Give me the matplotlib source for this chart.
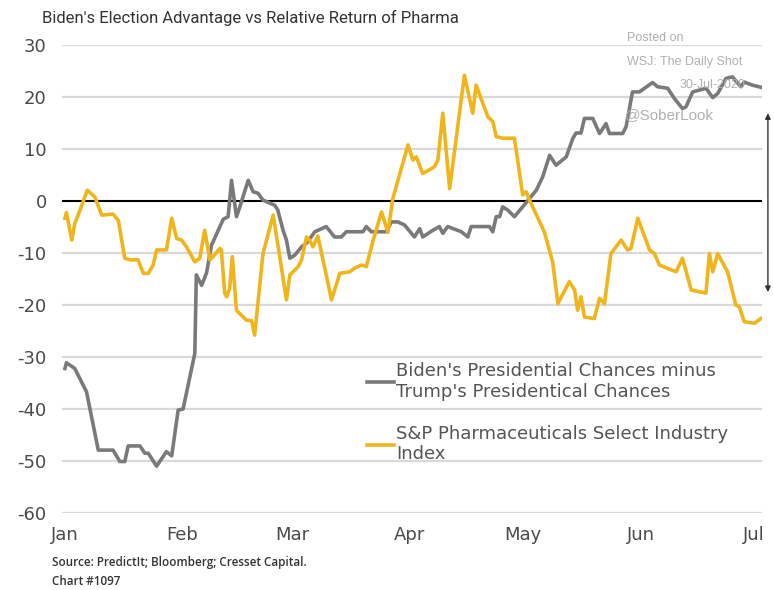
import matplotlib
matplotlib.use("Agg")
import matplotlib.pyplot as plt
from matplotlib.lines import Line2D

plt.rcParams["axes.unicode_minus"] = False

# days since Jan 1, 2020
biden_days = [0, 0.4, 2.6, 5.7, 8.8, 12.7, 14.5, 15.8, 16.7, 19.8, 21.1, 22.0, 24.2, 26.8,
              28.2, 29.9, 31.2, 34.3, 34.7, 36.1, 37.4, 38.7, 41.8, 43.1, 44.0, 45.3, 46.2,
              48.4, 49.7, 51.0, 52.3, 55.4, 56.2, 57.6, 58.5, 59.4, 60.7, 62.5, 63.8, 66.0,
              69.0, 71.2, 73.0, 74.3, 78.7, 79.6, 80.9, 84.9, 86.2, 87.9, 89.7, 92.3, 93.7,
              94.5, 97.2, 98.9, 99.8, 101.1, 104.7, 106.4, 107.3, 112.1, 113.0, 113.9, 114.8,
              115.6, 116.9, 118.7, 120.9, 122.7, 124.5, 126.2, 128.0, 129.7, 132.4, 134.1,
              135.0, 136.3, 137.2, 139.4, 141.2, 142.9, 143.8, 147.3, 148.2, 149.9, 151.7,
              155.2, 156.5, 159.2, 160.9, 163.1, 164.0, 165.8, 169.3, 171.1, 172.4, 174.6,
              176.3, 178.5, 179.4, 181.6, 183.8]
biden_adv = [-32.2, -31.1, -32.2, -36.7, -47.9, -47.9, -50.1, -50.1, -47.1, -47.1, -48.5, -48.5,
             -51.0, -48.2, -49.0, -40.2, -40.0, -29.3, -14.2, -16.2, -13.8, -8.5, -3.5, -3.0,
             4.0, -3.0, -1.1, 4.0, 1.8, 1.5, 0.2, -0.8, -1.7, -5.6, -7.5, -11.0, -10.4, -8.8,
             -8.1, -5.9, -4.9, -6.9, -6.9, -5.9, -5.9, -4.9, -5.9, -5.9, -4.0, -4.0, -4.6,
             -6.9, -5.3, -6.9, -5.6, -4.9, -6.2, -4.9, -5.9, -6.9, -4.9, -4.9, -5.9, -3.0,
             -3.0, -1.1, -1.7, -3.0, -1.1, 0.5, 2.1, 4.7, 8.8, 6.9, 8.5, 12.0, 13.1, 13.1,
             15.9, 15.9, 13.0, 14.9, 13.0, 13.0, 14.3, 21.0, 21.0, 22.8, 22.0, 21.7, 19.8,
             17.8, 18.1, 21.0, 21.7, 19.9, 20.7, 23.6, 23.9, 22.0, 22.9, 22.3, 21.9]

pharma_days = [0, 0.4, 1.8, 2.6, 4.0, 5.9, 7.9, 9.7, 12.7, 14.1, 15.8, 17.2, 19.3, 20.7, 22.0,
               23.3, 24.2, 26.8, 28.2, 29.5, 30.8, 32.1, 34.3, 35.6, 36.9, 38.3, 39.1, 40.9,
               41.3, 42.2, 42.7, 43.5, 44.2, 45.3, 47.9, 49.3, 50.1, 52.3, 55.0, 58.5, 59.4,
               61.6, 62.5, 63.8, 64.6, 65.5, 66.8, 70.4, 72.6, 75.2, 76.5, 78.3, 79.6, 81.3,
               83.6, 84.0, 85.3, 86.6, 90.6, 91.9, 92.8, 94.5, 97.6, 98.5, 99.8, 101.6, 105.5,
               107.7, 108.6, 111.7, 113.0, 113.9, 115.6, 118.7, 120.9, 121.8, 122.7, 126.6,
               128.8, 130.2, 133.2, 134.6, 135.4, 136.3, 137.2, 139.8, 141.2, 142.5, 144.2,
               146.9, 148.6, 149.5, 151.3, 154.4, 155.7, 157.0, 161.4, 163.1, 165.4, 169.3,
               170.2, 171.1, 172.4, 175.0, 177.2, 178.1, 179.4, 182.1, 183.8]
pharma_rel = [-3.3, -2.2, -7.5, -4.3, -1.7, 2.1, 0.8, -2.7, -2.5, -3.7, -11.0, -11.3, -11.3,
              -13.9, -13.9, -12.3, -9.4, -9.4, -3.3, -7.2, -7.5, -8.8, -11.7, -11.0, -5.6,
              -11.3, -10.7, -9.1, -9.4, -17.7, -18.4, -16.8, -10.7, -21.0, -22.9, -23.0,
              -25.8, -10.1, -2.7, -19.0, -14.2, -12.6, -11.3, -6.9, -7.5, -8.8, -6.7, -19.0,
              -13.9, -13.6, -12.9, -12.3, -12.6, -7.8, -2.1, -3.0, -6.0, 0.5, 10.8, 7.9, 8.5,
              5.3, 6.6, 7.9, 16.9, 2.4, 24.2, 16.9, 22.3, 16.2, 15.3, 12.4, 12.1, 12.1, 1.2,
              1.8, 0.2, -5.9, -11.7, -19.7, -15.5, -17.1, -21.0, -18.4, -22.3, -22.6, -18.7,
              -19.7, -10.1, -7.5, -9.4, -9.1, -3.3, -9.4, -10.1, -12.3, -13.6, -11.0, -17.1,
              -17.7, -10.1, -13.6, -10.1, -13.6, -20.0, -20.3, -23.2, -23.5, -22.6]

month_starts = [0, 31, 60, 91, 121, 152, 182]
month_labels = ["Jan", "Feb", "Mar", "Apr", "May", "Jun", "Jul"]
y_ticks = [30, 20, 10, 0, -10, -20, -30, -40, -50, -60]

gray = "#7a7a7a"
gold = "#f1b51c"
text_col = "#4a4a4a"

fig = plt.figure(figsize=(7.74, 5.9), dpi=100)
ax = fig.add_axes([0.080, 0.1305, 0.904, 0.793])

for v in y_ticks:
    if v != 0:
        ax.axhline(v, color="#d9d9d9", lw=1.6, zorder=1)
ax.axhline(0, color="black", lw=1.5, zorder=2)

ax.plot(biden_days, biden_adv, color=gray, lw=2.6, zorder=3, solid_joinstyle="round")
ax.plot(pharma_days, pharma_rel, color=gold, lw=2.6, zorder=4, solid_joinstyle="round")

ax.set_xlim(-0.8, 184)
ax.set_ylim(-60, 30)
ax.set_xticks(month_starts)
ax.set_xticklabels(month_labels)
ax.set_yticks(y_ticks)
ax.tick_params(length=0, labelsize=13, colors=text_col)
ax.tick_params(axis="x", pad=9)
ax.tick_params(axis="y", pad=11)
for lab in ax.get_xticklabels() + ax.get_yticklabels():
    lab.set_family("DejaVu Sans")
for s in ax.spines.values():
    s.set_visible(False)

handles = [Line2D([], [], color=gray, lw=2.6), Line2D([], [], color=gold, lw=2.6)]
labels = ["Biden's Presidential Chances minus\nTrump's Presidentical Chances",
          "S&P Pharmaceuticals Select Industry\nIndex"]
ax.legend(handles, labels, loc="upper left", bbox_to_anchor=(0.416, 0.353), frameon=False,
          handlelength=1.45, handletextpad=0.15, labelspacing=1.3, borderpad=0.3,
          prop={"family": "DejaVu Sans", "size": 13}, labelcolor="#555555")

# vertical double arrow on the right edge
ax.annotate("", xy=(1.009, 16.9), xytext=(1.009, -17.5),
            xycoords=("axes fraction", "data"), textcoords=("axes fraction", "data"),
            arrowprops=dict(arrowstyle="<|-|>", color="#333333", lw=1.0,
                            mutation_scale=8, shrinkA=0, shrinkB=0),
            annotation_clip=False)

fig.text(0.054, 0.961, "Biden's Election Advantage vs Relative Return of Pharma",
         fontsize=12, family="Roboto", color="#333333", va="baseline")

wm = "#b0b0b0"
fig.text(0.810, 0.930, "Posted on", fontsize=9, family="Liberation Sans", color=wm, va="baseline")
fig.text(0.810, 0.890, "WSJ: The Daily Shot", fontsize=9, family="Liberation Sans", color=wm,
         va="baseline")
fig.text(0.878, 0.850, "30-Jul-2020", fontsize=9, family="Liberation Sans", color=wm,
         va="baseline", zorder=10)
fig.text(0.807, 0.798, "@SoberLook", fontsize=11, family="Liberation Sans", color=wm,
         va="baseline")

src_font = dict(fontsize=8.4, family="Open Sans", fontweight="semibold", color="#333333",
                va="baseline")
fig.text(0.067, 0.041, "Source: PredictIt; Bloomberg; Cresset Capital.", **src_font)
fig.text(0.067, 0.008, "Chart #1097", **src_font)

fig.savefig("out.png", dpi=100, facecolor="white")
